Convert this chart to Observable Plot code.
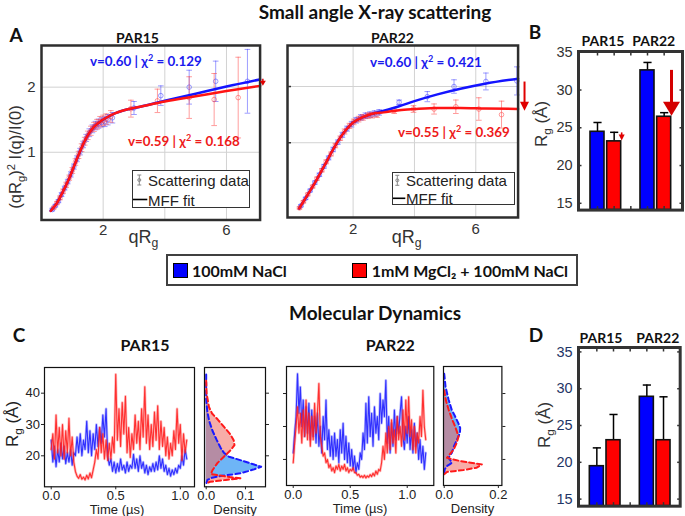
<!DOCTYPE html>
<html><head><meta charset="utf-8">
<script src="https://cdn.jsdelivr.net/npm/d3@7"></script>
<script src="https://cdn.jsdelivr.net/npm/@observablehq/plot@0.6"></script>
<style>
body{margin:0;background:#fff}
#fig{position:relative;width:685px;height:516px;overflow:hidden;background:#fff;font-family:"Liberation Sans",Arial,sans-serif;color:#222}
.t{position:absolute;white-space:nowrap;line-height:1}
sub{font-size:68%;vertical-align:-0.35em;line-height:0}
sup{font-size:68%;vertical-align:0.55em;line-height:0}
</style></head><body><div id="fig"></div><script>
// ---------------- DATA ----------------
const groups = ["PAR15", "PAR22"];
const conditions = ["100mM NaCl", "1mM MgCl₂ + 100mM NaCl"];
// SAXS Rg (Å): [PAR15 NaCl, PAR15 Mg, PAR22 NaCl, PAR22 Mg]
const saxsRg = [24.47, 23.2, 32.6, 26.46];
const saxsRgErr = [1.23, 1.2, 1.05, 0.54];
// MD Rg (Å)
const mdRg = [19.47, 23.0, 28.9, 23.0];
const mdRgErr = [2.49, 3.5, 1.6, 5.9];
const rgTicks = [15, 20, 25, 30, 35];

// Kratky-style SAXS data [qRg, (qRg)^2 I/I0, err]
const saxs15Blue = [[0.35,0.12,0.02],[0.45,0.18,0.02],[0.55,0.25,0.025],[0.65,0.35,0.03],[0.75,0.45,0.03],[0.85,0.55,0.035],[0.95,0.66,0.04],[1.05,0.78,0.04],[1.15,0.90,0.045],[1.25,1.01,0.05],[1.35,1.12,0.05],[1.45,1.22,0.055],[1.55,1.30,0.06],[1.65,1.36,0.06],[1.75,1.41,0.065],[1.85,1.44,0.07],[1.95,1.46,0.07],[2.05,1.47,0.075],[2.15,1.50,0.08],[2.3,1.53,0.08],[3.0,1.68,0.1],[3.87,1.87,0.15],[4.79,2.0,0.26],[5.65,2.09,0.31],[6.68,2.09,0.49]];
const saxs15Red = [[0.4,0.15,0.02],[0.5,0.22,0.025],[0.6,0.30,0.03],[0.7,0.40,0.035],[0.8,0.50,0.04],[0.9,0.61,0.04],[1.0,0.72,0.045],[1.1,0.85,0.05],[1.2,0.96,0.055],[1.3,1.07,0.06],[1.4,1.17,0.06],[1.5,1.26,0.065],[1.6,1.33,0.07],[1.7,1.39,0.07],[1.8,1.43,0.075],[1.9,1.47,0.08],[2.0,1.49,0.08],[2.1,1.51,0.08],[2.25,1.55,0.09],[2.9,1.67,0.13],[3.76,1.79,0.18],[4.79,1.84,0.32],[5.6,1.81,0.4],[6.38,1.84,0.62]];
const fit15Blue = [[0.3,0.10],[0.5,0.22],[0.7,0.40],[0.9,0.60],[1.1,0.84],[1.3,1.07],[1.5,1.26],[1.7,1.39],[1.9,1.47],[2.1,1.53],[2.4,1.60],[2.8,1.66],[3.2,1.70],[4.0,1.79],[5.0,1.90],[6.0,2.01],[7.09,2.12]];
const fit15Red = [[0.3,0.10],[0.5,0.22],[0.7,0.40],[0.9,0.60],[1.1,0.84],[1.3,1.07],[1.5,1.26],[1.7,1.39],[1.9,1.47],[2.1,1.53],[2.4,1.60],[2.8,1.66],[3.2,1.70],[4.0,1.78],[5.0,1.86],[6.0,1.94],[7.09,2.02]];
const saxs22Blue = [[0.3,-0.12,0.02],[0.45,0.01,0.02],[0.6,0.15,0.025],[0.75,0.29,0.03],[0.9,0.43,0.03],[1.05,0.58,0.035],[1.2,0.73,0.035],[1.35,0.88,0.04],[1.5,1.01,0.04],[1.65,1.14,0.045],[1.8,1.25,0.045],[1.95,1.33,0.05],[2.1,1.40,0.05],[2.25,1.45,0.05],[2.4,1.48,0.05],[2.55,1.50,0.05],[2.7,1.52,0.05],[2.85,1.54,0.05],[3.5,1.72,0.04],[4.42,1.82,0.09],[5.29,2.0,0.12],[6.33,2.09,0.15],[7.34,2.1,0.25]];
const saxs22Red = [[0.25,-0.16,0.02],[0.38,-0.05,0.02],[0.52,0.08,0.025],[0.68,0.22,0.025],[0.82,0.36,0.03],[0.98,0.51,0.03],[1.12,0.66,0.035],[1.28,0.80,0.035],[1.42,0.95,0.04],[1.58,1.08,0.04],[1.72,1.20,0.045],[1.88,1.30,0.045],[2.02,1.37,0.05],[2.18,1.42,0.05],[2.32,1.45,0.05],[2.48,1.48,0.05],[2.62,1.49,0.05],[2.78,1.50,0.05],[3.34,1.57,0.05],[3.97,1.60,0.06],[4.64,1.60,0.09],[5.35,1.64,0.12],[6.1,1.6,0.2],[6.84,1.5,0.24]];
const fit22Blue = [[0.24,-0.17],[0.5,0.06],[0.8,0.33],[1.1,0.63],[1.4,0.93],[1.7,1.18],[2.0,1.36],[2.3,1.45],[2.6,1.51],[3.0,1.57],[3.5,1.65],[4.0,1.74],[4.75,1.86],[5.5,1.96],[6.3,2.05],[7.38,2.14]];
const fit22Red = [[0.24,-0.17],[0.5,0.06],[0.8,0.33],[1.1,0.63],[1.4,0.93],[1.7,1.18],[2.0,1.36],[2.3,1.45],[2.6,1.51],[3.0,1.54],[3.5,1.58],[4.0,1.60],[4.75,1.62],[5.5,1.62],[6.3,1.61],[7.38,1.60]];

// MD Rg traces (Å), sampled every mdStep µs
const mdStep = 0.0125;
const md15Red = [22,27,19,33,21,29,20,30,19,28,21,32,20,26,18,15,13.5,12.8,14,12.5,13.2,12.3,13.8,12.6,14.5,13,15.5,18,22,19,29,21,27,19,25,18.5,24,19,26,21,46,25,35,23,37,27,39,21,29,19.5,27,22,33,24,31,22,35,26,42,24,33,22,30,23,34,25,36,22,31,23,29,20,26,19,24,20,28,22,35,24,30,18.5,27,21,25];
const md15Blue = [25,18,23,16.5,22,18,24,19,23,17.5,21,18,22,17,21,20,26,21,27,20,25,22,31,21,28,20,27,22,30,23,29,24,33,26,35,20,17,19,15,18,14.5,17.5,15,19,15.5,17,14.5,18,15,17,16,20.5,16,19,15,20,16,18,14.5,17,14,16.5,15,17.5,15,18,15.5,20,16,19,15,17,14,16,13.5,15.5,14,16,14.5,17,16,20,17,22,19];
const md22Blue = [22,28,33,46,34,42,30,38,27,36,28,37,26,35,27,33,25,34,24,30,22,33,26,38,23,29,21,27,20,28,21,26,19,29,22,31,20,27,19,25,18,23,17,21,16,19,17,22,20,28,23,37,25,39,27,34,24,36,28,33,26,40,31,38,33,44,25,33,22,31,24,35,26,33,28,34,39,27,23,30,25,33,23,29,22,31,24,28,20,26,19,24,17,22];
const md22Red = [19,25,30,36,28,34,25,35,27,38,26,34,24,33,26,37,28,34,43,27,24,21,22,19,20,17.5,18.5,16.5,17.5,16,18,17,18.5,16.5,18,17,18.5,16.5,17.5,16,17,16.5,17.5,16,16,15.2,15.5,14.6,15,14.5,15.2,14.4,15,14.6,15.4,14.8,15.8,15,16.5,15.5,17,16.5,19,24,20,28,22,30,23,32,25,29,22,33,26,30,24,35,26,38,28,39,27,32,23,30,22,28,25,33,27,41,30,26];
// Rg distributions [Rg, density]
const dens15Blue = [[46,0],[38,0],[34,0.003],[31,0.008],[28,0.016],[25,0.027],[22.5,0.037],[21,0.045],[19.7,0.058],[18.5,0.09],[17.3,0.12],[16.5,0.14],[15.6,0.12],[14.4,0.087],[13.6,0.04],[13,0.015],[12.3,0.003],[11,0]];
const dens15Red = [[44,0],[40,0.001],[35.6,0.007],[33.5,0.015],[31.5,0.03],[29.3,0.045],[27.1,0.06],[25,0.07],[23.4,0.072],[21.8,0.062],[19.7,0.045],[17.6,0.028],[15.4,0.016],[14.2,0.012],[13.2,0.06],[12.8,0.087],[12.3,0.05],[11.7,0.01],[11.2,0]];
const dens22Blue = [[46,0],[42,0.005],[38.2,0.016],[35,0.028],[33.1,0.04],[31,0.052],[29.6,0.059],[28,0.058],[26,0.047],[24,0.036],[22,0.028],[20.5,0.016],[19.5,0.025],[19,0.028],[18.5,0.02],[18,0.01],[17,0.002],[16,0]];
const dens22Red = [[41,0],[38,0.006],[35.2,0.016],[32,0.03],[30.1,0.04],[27,0.053],[25,0.046],[23,0.035],[21.5,0.02],[20.5,0.01],[19.5,0.059],[18.5,0.139],[17.5,0.12],[16.8,0.071],[16.2,0.01],[15.5,0]];

// ---------------- HELPERS ----------------
const fig = document.getElementById("fig");
const FONT = '"Liberation Sans", Arial, sans-serif';
const BLUE = "#0000ff", RED = "#ff0000";
const cap = {draw(ctx, size) { const w = Math.sqrt(size); ctx.moveTo(-w / 2, 0); ctx.lineTo(w / 2, 0); }};
const head = (w, h) => ({draw(ctx) { ctx.moveTo(-w / 2, -h); ctx.lineTo(w / 2, -h); ctx.lineTo(0, 0); ctx.closePath(); }});
const intFmt = d3.format("d");

function panel(frame, m, options, color = "#222") {
  const [x0, y0, x1, y1] = frame, [mt, mr, mb, ml] = m;
  const svg = Plot.plot({
    width: x1 - x0 + ml + mr, height: y1 - y0 + mt + mb,
    marginTop: mt, marginRight: mr, marginBottom: mb, marginLeft: ml,
    style: {fontFamily: FONT, fontSize: "13px", color, background: "transparent", overflow: "visible"},
    ...options
  });
  svg.style.position = "absolute";
  svg.style.left = (x0 - ml) + "px";
  svg.style.top = (y0 - mt) + "px";
  svg.style.maxWidth = "none";
  fig.append(svg);
}
function txt(html, x, y, css = "", anchor = "middle", rot = 0) {
  const d = document.createElement("div");
  d.className = "t"; d.innerHTML = html; d.style.cssText += css;
  d.style.left = x + "px"; d.style.top = y + "px";
  const tx = anchor === "middle" ? "-50%" : anchor === "end" ? "-100%" : "0";
  d.style.transform = `translate(${tx},-50%)` + (rot ? ` rotate(${rot}deg)` : "");
  fig.append(d);
}
function box(x0, y0, x1, y1, css) {
  const d = document.createElement("div");
  d.style.cssText = `position:absolute;left:${x0}px;top:${y0}px;width:${x1 - x0}px;height:${y1 - y0}px;box-sizing:border-box;` + css;
  fig.append(d);
  return d;
}
function saxsMarks(data, color, op) {
  const o = {x: d => d[0], stroke: color, strokeOpacity: op, strokeWidth: 1};
  return [
    Plot.ruleX(data, {...o, y1: d => d[1] - d[2], y2: d => d[1] + d[2]}),
    Plot.dot(data, {...o, y: d => d[1] + d[2], symbol: cap, r: 3.2}),
    Plot.dot(data, {...o, y: d => d[1] - d[2], symbol: cap, r: 3.2}),
    Plot.dot(data, {...o, y: d => d[1], r: 2.3, fill: "none"})
  ];
}
function arrowMarks(x, yFrom, yTo, w, h, sw, color) {
  const d = [{x, yFrom, yTo}];
  return [
    Plot.ruleX(d, {x: "x", y1: "yFrom", y2: "yTo", stroke: color, strokeWidth: sw, insetBottom: h * 0.6}),
    Plot.dot(d, {x: "x", y: "yTo", symbol: head(w, h), r: 1, fill: color, stroke: "none"})
  ];
}
const fitLine = (data, color) => Plot.line(data, {x: d => d[0], y: d => d[1], stroke: color, strokeWidth: 2.5, curve: "monotone-x"});
const grid = "#d2d2d2";

// ---------------- PANEL A ----------------
panel([40.7, 45, 259.3, 219.5], [2, 12, 26, 40], {
  x: {domain: [0, 7.09], axis: null},
  y: {domain: [-0.04, 2.64], axis: null},
  marks: [
    Plot.gridX([2, 4, 6], {stroke: grid, strokeOpacity: 1}),
    Plot.gridY([1, 2], {stroke: grid, strokeOpacity: 1}),
    ...saxsMarks(saxs15Blue, "#3a3aff", 0.5),
    ...saxsMarks(saxs15Red, "#ff3a3a", 0.5),
    fitLine(fit15Blue, "#1414ff"),
    fitLine(fit15Red, "#ff1414"),
    Plot.frame({stroke: "#2e2e2e", strokeWidth: 2.5}),
    Plot.axisX([2, 6], {tickSize: 0, tickPadding: 4, fontSize: 15, tickFormat: intFmt, label: null}),
    Plot.axisY([1, 2], {tickSize: 0, tickPadding: 6, fontSize: 15, tickFormat: intFmt, label: null}),
    ...arrowMarks(7.18, fit15Blue.at(-1)[1], fit15Red.at(-1)[1], 6, 5, 1.5, "#e00000")
  ]
}, "#333");
panel([286.7, 45, 517.3, 217], [2, 14, 28, 20], {
  x: {domain: [-0.14, 7.38], axis: null},
  y: {domain: [-0.33, 2.73], axis: null},
  marks: [
    Plot.gridX([2, 4, 6], {stroke: grid, strokeOpacity: 1}),
    Plot.gridY([1, 2], {stroke: grid, strokeOpacity: 1}),
    ...saxsMarks(saxs22Blue, "#3a3aff", 0.5),
    ...saxsMarks(saxs22Red, "#ff3a3a", 0.5),
    fitLine(fit22Blue, "#1414ff"),
    fitLine(fit22Red, "#ff1414"),
    Plot.frame({stroke: "#2e2e2e", strokeWidth: 2.5}),
    Plot.axisX([2, 6], {tickSize: 0, tickPadding: 6, fontSize: 15, tickFormat: intFmt, label: null}),
    Plot.axisY([1, 2], {tickSize: -4, tickFormat: () => "", label: null, strokeWidth: 1.5}),
    ...arrowMarks(7.59, fit22Blue.at(-1)[1] - 0.06, fit22Red.at(-1)[1] - 0.03, 9, 9, 2, "#e00000")
  ]
}, "#333");

// ---------------- PANELS B & D ----------------
function barPanel(frame, xDomain, yDomain, vals, errs, tickColor, arrows) {
  const rows = groups.flatMap((g, gi) => conditions.map((c, ci) => ({g, c, pos: gi * 3 + ci + 1, v: vals[gi * 2 + ci], e: errs[gi * 2 + ci]})));
  const blank = () => "";
  const marks = [
    Plot.ruleX(rows, {x: "pos", y1: "v", y2: d => d.v + d.e, stroke: "#000", strokeWidth: 1.5}),
    Plot.dot(rows, {x: "pos", y: d => d.v + d.e, symbol: cap, r: 4.6, stroke: "#000", strokeWidth: 1.5}),
    Plot.rectY(rows, {x1: d => d.pos - 0.42, x2: d => d.pos + 0.42, y1: yDomain[0], y2: "v", fill: "c", stroke: "#111", strokeWidth: 1.6}),
    Plot.frame({stroke: "#333", strokeWidth: 3}),
    Plot.axisX([1, 2, 3, 4, 5], {anchor: "bottom", tickSize: -3.5, tickFormat: blank, label: null, strokeWidth: 1.5}),
    Plot.axisX([1, 2, 3, 4, 5], {anchor: "top", tickSize: -3.5, tickFormat: blank, label: null, strokeWidth: 1.5}),
    Plot.axisY(rgTicks, {anchor: "left", tickSize: -3.5, tickFormat: blank, label: null, strokeWidth: 1.5}),
    Plot.axisY(rgTicks, {anchor: "right", tickSize: -3.5, tickFormat: blank, label: null, strokeWidth: 1.5}),
    Plot.axisY(rgTicks, {anchor: "left", tickSize: 0, tickPadding: 6, fontSize: 14.5, label: null, fill: tickColor})
  ];
  if (arrows) {
    marks.push(...arrowMarks(2.45, vals[0] - 0.15, vals[1] + 0.1, 6, 6, 1.6, "#e00000"));
    marks.push(...arrowMarks(5.44, vals[2], vals[3] + 0.12, 17, 14, 3, "#d40000"));
  }
  panel(frame, [2, 3, 2, 28], {
    x: {domain: xDomain, axis: null},
    y: {domain: yDomain, axis: null},
    color: {domain: conditions, range: [BLUE, RED]},
    marks
  }, "#333");
}
barPanel([577.7, 50.7, 681.7, 209.3], [-0.14, 6.1], [14.1, 35.1], saxsRg, saxsRgErr, "#333", true);
barPanel([578.3, 347.3, 680, 506], [-0.1, 6.0], [14.04, 35.6], mdRg, mdRgErr, "#1f3566", false);

// ---------------- PANEL C ----------------
const series = vals => vals.map((v, i) => ({t: i * mdStep, v}));
function traceMarks(vals, color) {
  const s = series(vals);
  return [
    Plot.line(s, {x: "t", y: "v", stroke: color, strokeWidth: 2.6, strokeOpacity: 0.3}),
    Plot.line(s, {x: "t", y: "v", stroke: color, strokeWidth: 1.1, strokeOpacity: 0.9})
  ];
}
function densMarks(blue, red) {
  const o = {x: d => d[1], y: d => d[0]};
  return [
    Plot.areaX(blue, {...o, fill: "#55a8f5", fillOpacity: 0.85}),
    Plot.areaX(red, {...o, fill: "#f06a60", fillOpacity: 0.55}),
    Plot.lineX(blue, {...o, stroke: "#1a1aff", strokeWidth: 2, strokeDasharray: "5,3"}),
    Plot.lineX(red, {...o, stroke: "#ff1a1a", strokeWidth: 2, strokeDasharray: "5,3"})
  ];
}
const f1 = d3.format(".1f");
panel([44.3, 366.7, 194.3, 486], [2, 2, 22, 34], {
  x: {domain: [-0.052, 1.11], axis: null},
  y: {domain: [10.1, 48.2], axis: null},
  marks: [
    ...traceMarks(md15Blue, "#2020ff"),
    ...traceMarks(md15Red, "#ff2020"),
    Plot.frame({stroke: "#111", strokeWidth: 1.2}),
    Plot.axisX([0, 0.5, 1], {tickSize: 3, tickPadding: 1, tickFormat: f1, fontSize: 13, label: null}),
    Plot.axisY([20, 30, 40], {tickSize: 3, tickPadding: 1.5, fontSize: 13, label: null})
  ]
});
panel([204, 366.7, 265, 486], [2, 8, 22, 8], {
  x: {domain: [-0.0043, 0.151], axis: null},
  y: {domain: [10.1, 48.2], axis: null},
  marks: [
    ...densMarks(dens15Blue, dens15Red),
    Plot.frame({stroke: "#111", strokeWidth: 1.2}),
    Plot.axisX([0, 0.1], {tickSize: 3, tickPadding: 1, tickFormat: f1, fontSize: 13, label: null}),
    Plot.axisY([20, 30, 40], {anchor: "right", tickSize: 3, tickFormat: () => "", label: null})
  ]
});
panel([286, 366.3, 433.3, 485.3], [2, 2, 22, 10], {
  x: {domain: [-0.059, 1.233], axis: null},
  y: {domain: [12.1, 48.2], axis: null},
  marks: [
    ...traceMarks(md22Blue, "#2020ff"),
    ...traceMarks(md22Red, "#ff2020"),
    Plot.frame({stroke: "#111", strokeWidth: 1.2}),
    Plot.axisX([0, 0.5, 1], {tickSize: 3, tickPadding: 1, tickFormat: f1, fontSize: 13, label: null}),
    Plot.axisY([20, 30, 40], {tickSize: 3, tickFormat: () => "", label: null})
  ]
});
panel([443.3, 366.3, 501.7, 485.3], [2, 8, 22, 8], {
  x: {domain: [-0.0026, 0.213], axis: null},
  y: {domain: [12.1, 48.2], axis: null},
  marks: [
    ...densMarks(dens22Blue, dens22Red),
    Plot.frame({stroke: "#111", strokeWidth: 1.2}),
    Plot.axisX([0, 0.2], {tickSize: 3, tickPadding: 1, tickFormat: f1, fontSize: 13, label: null}),
    Plot.axisY([20, 30, 40], {anchor: "right", tickSize: 3, tickFormat: () => "", label: null})
  ]
});

// ---------------- TEXT ----------------
const B = "font-family:Lato,'Open Sans',sans-serif;font-weight:700;color:#111;";
txt("Small angle X-ray scattering", 375, 11, B + "font-size:19px");
txt("Molecular Dynamics", 375, 312, B + "font-size:19px");
txt("A", 16, 33.5, B + "font-size:19px");
txt("B", 535, 31, B + "font-size:19px");
txt("C", 19, 334, B + "font-size:19px");
txt("D", 536, 333.5, B + "font-size:19px");
txt(groups[0], 137.5, 38.3, B + "font-size:14px");
txt(groups[1], 392.5, 38.3, B + "font-size:14px");
txt(groups[0], 603, 40.7, B + "font-size:14px");
txt(groups[1], 653.7, 40.7, B + "font-size:14px");
txt(groups[0], 601, 337.7, B + "font-size:14px");
txt(groups[1], 657.8, 337.7, B + "font-size:14px");
txt(groups[0], 145, 345, B + "font-size:16px");
txt(groups[1], 390.3, 345, B + "font-size:16px");
// fit annotations
const ann = B + "font-size:13.4px;";
txt("v=0.60 | χ<sup>2</sup> = 0.129", 90, 61.7, ann + "color:#1a1aee", "start");
txt("v=0.59 | χ<sup>2</sup> = 0.168", 128, 141.7, ann + "color:#ee1a1a", "start");
txt("v=0.60 | χ<sup>2</sup> = 0.421", 370, 63.3, ann + "color:#1a1aee", "start");
txt("v=0.55 | χ<sup>2</sup> = 0.369", 398, 133.3, ann + "color:#ee1a1a", "start");
// axis labels
const L = "font-family:'Liberation Sans',Arial,sans-serif;color:#333;";
txt("(qR<sub>g</sub>)<sup>2</sup> I(q)/I(0)", 15, 156.7, L + "font-size:16.5px", "middle", -90);
txt("qR<sub>g</sub>", 143.5, 237, L + "font-size:18px");
txt("qR<sub>g</sub>", 406.7, 237, L + "font-size:18px");
txt("R<sub>g</sub> (Å)", 541, 124, L + "font-size:17px", "middle", -90);
txt("R<sub>g</sub> (Å)", 544, 425, L + "font-size:17px", "middle", -90);
txt("R<sub>g</sub> (Å)", 12, 424, L + "font-size:17px;color:#222", "middle", -90);
txt("Time (µs)", 117, 509.3, L + "font-size:13px;color:#222");
txt("Density", 235, 509.3, L + "font-size:13px;color:#222");
txt("Time (µs)", 360, 508.3, L + "font-size:13px;color:#222");
txt("Density", 472.5, 508.3, L + "font-size:13px;color:#222");

// SAXS legends
function saxsLegend(x0, y0, x1, y1, tx, r1, r2) {
  box(x0, y0, x1, y1, "border:1.6px solid #333;background:#fff");
  const g = document.createElement("div");
  g.style.cssText = `position:absolute;left:${x0}px;top:${y0}px`;
  const gx = tx - x0 - 9, a = r1 - y0, b = r2 - y0;
  g.innerHTML = `<svg width="${tx - x0}" height="${y1 - y0}" style="position:absolute;left:0;top:0;overflow:visible">
    <g stroke="#888" stroke-width="1" fill="none">
      <line x1="${gx}" x2="${gx}" y1="${a - 5}" y2="${a + 5}"/><line x1="${gx - 2}" x2="${gx + 2}" y1="${a - 5}" y2="${a - 5}"/>
      <line x1="${gx - 2}" x2="${gx + 2}" y1="${a + 5}" y2="${a + 5}"/><circle cx="${gx}" cy="${a}" r="1.5"/></g>
    <line x1="1" x2="${tx - x0 - 1}" y1="${b}" y2="${b}" stroke="#000" stroke-width="1.6"/></svg>`;
  fig.append(g);
  txt("Scattering data", tx, r1, L + "font-size:15px;color:#222", "start");
  txt("MFF fit", tx, r2, L + "font-size:15px;color:#222", "start");
}
saxsLegend(131.7, 170, 250, 208, 148, 180, 199.5);
saxsLegend(391.7, 171.7, 515.5, 205.5, 406, 180, 198);

// condition legend
box(166, 254.3, 578, 285.7, "border:2.5px solid #404040;background:#fff");
box(173.3, 263, 188.3, 278, `background:${BLUE};border:1px solid #000`);
box(351.7, 263, 366.7, 278, `background:${RED};border:1px solid #000`);
txt(conditions[0], 192, 270.5, B + "font-size:16px", "start");
txt(conditions[1], 371.7, 270.5, B + "font-size:16px", "start");
</script></body></html>
